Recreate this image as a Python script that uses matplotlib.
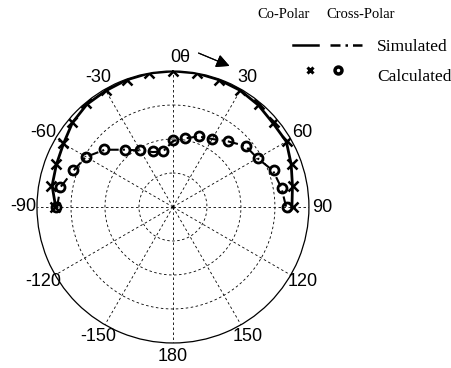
import numpy as np
import matplotlib.pyplot as plt
from matplotlib.lines import Line2D

# angles in degrees, gains in dB (normalised)
angles = [-90, -80, -70, -60, -50, -40, -30, -20, -10, 0,
          10, 20, 30, 40, 50, 60, 70, 80, 90]
co_sim = [-5.5, -3.9, -3.5, -2.8, -1.4, -0.6, -0.5, -0.2, 0.0, 0.0,
          0.0, -0.2, -0.4, -0.9, -1.6, -1.5, -3.0, -4.3, -5.0]
co_calc = [-5.2, -3.7, -3.3, -2.6, -1.1, -0.2, -0.4, -0.1, 0.0, 0.0,
           0.0, -0.1, -0.3, -0.4, -1.2, -1.3, -2.8, -4.0, -4.8]
cross_sim = [-5.9, -6.4, -8.8, -10.5, -13.8, -18.0, -20.8, -22.8, -23.4, -20.6,
             -19.5, -17.9, -16.9, -14.8, -12.1, -11.3, -8.7, -7.6, -6.7]
cross_calc = [-5.7, -6.2, -8.6, -10.3, -13.6, -18.0, -20.7, -22.6, -23.4, -20.4,
              -19.4, -17.8, -16.8, -14.6, -11.9, -11.2, -8.5, -7.4, -6.5]
tick_angles = [2.7, 30, 60, 90, 120, 150, 180, -150, -120, -90, -60, -30]
tick_labels = ["0θ", "30", "60", "90", "120", "150", "180", "-150", "-120", "-90", "-60", "-30"]
rings = [-30, -20, -10]
rmin, rmax = -40, 0

fig = plt.figure(figsize=(4.51, 3.68), dpi=100)
ax = fig.add_axes([0.082, 0.068, 0.603, 0.739], projection="polar")
ax.set_theta_zero_location("N")
ax.set_theta_direction(-1)
ax.set_ylim(rmin, rmax)
ax.set_xticks([])
ax.set_yticks([])
ax.grid(False)
ax.spines["polar"].set_linewidth(0.9)

# dashed grid
full = np.linspace(0, 2 * np.pi, 361)
for r in rings:
    ax.plot(full, [r] * len(full), color="black", lw=0.6, ls=(0, (3, 3)))
for a in range(0, 360, 30):
    ax.plot([np.radians(a)] * 2, [rmin, rmax], color="black", lw=0.6, ls=(0, (3, 3)))

th = np.radians(angles)
ax.plot(th, co_sim, color="black", lw=2.0)
ax.plot(th, co_calc, ls="none", marker="x", ms=6.5, mew=1.8, color="black")
ax.plot(th, cross_sim, color="black", lw=1.5, ls=(0, (5, 2, 1, 2)))
ax.plot(th, cross_calc, ls="none", marker="o", ms=6.5, mew=2.0, mfc="none", mec="black")

for a, lab in zip(tick_angles, tick_labels):
    ax.text(np.radians(a), rmin + 1.1 * (rmax - rmin), lab, ha="center", va="center",
            fontsize=13, family="Liberation Sans", clip_on=False)

# arrow showing theta direction
fig.add_artist(plt.annotate("", xy=(232 / 451, 1 - 67 / 368), xytext=(196 / 451, 1 - 52 / 368),
                            xycoords="figure fraction", textcoords="figure fraction",
                            arrowprops=dict(arrowstyle="-|>", color="black", lw=0.8,
                                            mutation_scale=20)))

# legend drawn by hand
fig.text(257 / 451, 1 - 14 / 368, "Co-Polar", fontsize=10.5, family="Liberation Serif", va="center")
fig.text(326 / 451, 1 - 14 / 368, "Cross-Polar", fontsize=10.5, family="Liberation Serif", va="center")
fig.add_artist(Line2D([293 / 451, 318 / 451], [1 - 45 / 368] * 2, color="black", lw=1.8))
fig.add_artist(Line2D([330 / 451, 362 / 451], [1 - 45 / 368] * 2, color="black", lw=1.8,
                      ls=(0, (4, 2, 1, 2))))
fig.add_artist(Line2D([310 / 451], [1 - 70 / 368], ls="none", marker="x", ms=5, mew=2.2, color="black"))
fig.add_artist(Line2D([338 / 451], [1 - 70 / 368], ls="none", marker="o", ms=5, mew=2.5,
                      mfc="none", mec="black"))
fig.text(377 / 451, 1 - 47 / 368, "Simulated", fontsize=12.5, family="Liberation Serif", va="center")
fig.text(377 / 451, 1 - 77 / 368, "Calculated", fontsize=12.5, family="Liberation Serif", va="center")

fig.savefig("out.png", dpi=100)
